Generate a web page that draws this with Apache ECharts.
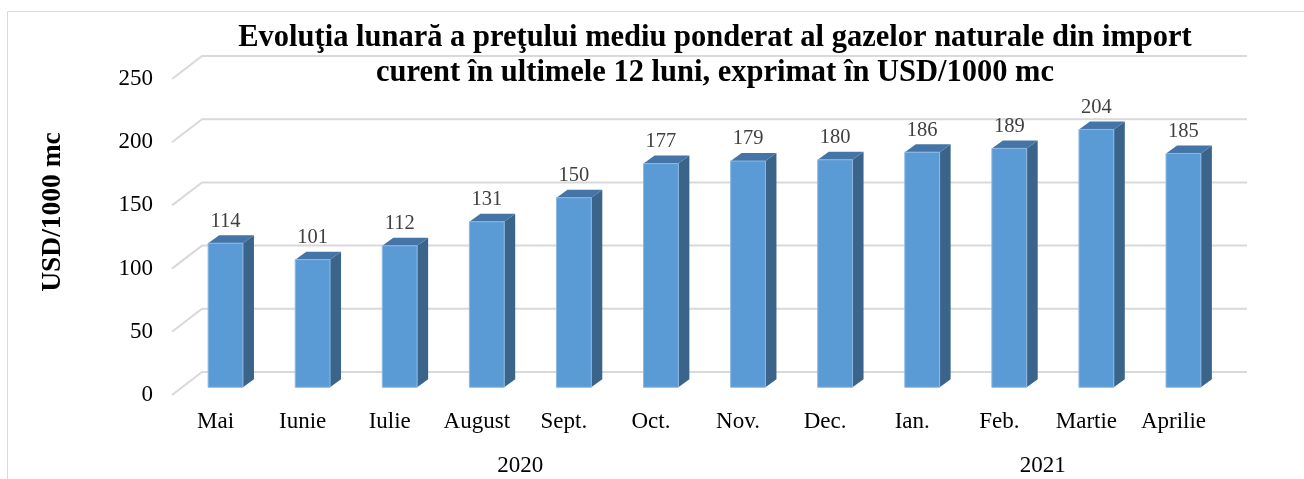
<!DOCTYPE html>
<html>
<head>
<meta charset="utf-8">
<style>
  html, body { margin: 0; padding: 0; background: #fff; }
  #main { width: 1304px; height: 479px; }
</style>
<script src="https://cdn.jsdelivr.net/npm/echarts@6/dist/echarts.min.js"></script>
</head>
<body>
<div id="main"></div>
<script>
var months = ['Mai', 'Iunie', 'Iulie', 'August', 'Sept.', 'Oct.', 'Nov.', 'Dec.', 'Ian.', 'Feb.', 'Martie', 'Aprilie'];
var prices = [114, 101, 112, 131, 150, 177, 179, 180, 186, 189, 204, 185];
var years = ['2020', '2021'];
var yearStart = [0, 8];
var yearEnd = [7, 11];
var yTicks = [0, 50, 100, 150, 200, 250];

var FONT = 'Liberation Serif';
var DX = 30, DY = -23;      // adancimea peretelui din spate
var FX = 10, FY = -7.7;     // fata barei fata de planul axelor
var BX = 11, BY = -8;       // grosimea barei
var GRID_COLOR = '#D9D9D9';

var myChart = echarts.init(document.getElementById('main'));

// linii de grila: diagonala din fata + linia de pe peretele din spate
function wallItem(params, api) {
  var cs = params.coordSys;
  var p = api.coord([0, api.value(1)]);
  var xl = cs.x, xr = cs.x + cs.width;
  return {
    type: 'polyline',
    shape: { points: [[xl, p[1]], [xl + DX, p[1] + DY], [xr + DX, p[1] + DY]] },
    style: { stroke: GRID_COLOR, lineWidth: 2, fill: null }
  };
}

function barItem(params, api) {
  var i = api.value(0), v = api.value(1);
  var base = api.coord([i, 0]);
  var top = api.coord([i, v]);
  var w = api.size([1, 0])[0] * 0.4;
  var x0 = base[0] - w / 2 + FX, x1 = x0 + w;
  var yb = base[1] + FY, yt = top[1] + FY;
  return {
    type: 'group',
    children: [
      { type: 'polygon', shape: { points: [[x1, yb], [x1 + BX, yb + BY], [x1 + BX, yt + BY], [x1, yt]] },
        style: { fill: '#3A6489' } },
      { type: 'polygon', shape: { points: [[x0, yt], [x1, yt], [x1 + BX, yt + BY], [x0 + BX, yt + BY]] },
        style: { fill: '#4575A6' } },
      { type: 'rect', shape: { x: x0, y: yt, width: w, height: yb - yt },
        style: { fill: '#5B9BD5', stroke: '#8DB8E3', lineWidth: 1 } },
      { type: 'text', style: { text: String(v), x: (x0 + x1) / 2, y: yt - 22, align: 'center', verticalAlign: 'middle',
        fontFamily: FONT, fontSize: 20.5, fill: '#404040' } }
    ]
  };
}

function yearItem(params, api) {
  var a = api.coord([api.value(0), 0]);
  var b = api.coord([api.value(1), 0]);
  return {
    type: 'text',
    style: { text: years[params.dataIndex], x: (a[0] + b[0]) / 2, y: a[1] + 71, align: 'center', verticalAlign: 'middle',
      fontFamily: FONT, fontSize: 23, fill: '#000' }
  };
}

var option = {
  backgroundColor: '#fff',
  animation: false,
  graphic: [
    { type: 'rect', shape: { x: 7.5, y: 11.5, width: 1400, height: 600 },
      style: { fill: null, stroke: GRID_COLOR, lineWidth: 1 }, silent: true },
    { type: 'text', x: 715, y: 20.5,
      style: { text: 'Evoluţia lunară a preţului mediu ponderat al gazelor naturale din import\ncurent în ultimele 12 luni, exprimat în USD/1000 mc',
        align: 'center', verticalAlign: 'top', fontFamily: FONT, fontWeight: 'bold', fontSize: 30.5, lineHeight: 35, fill: '#000' } },
    { type: 'text', x: 53, y: 212, rotation: Math.PI / 2,
      style: { text: 'USD/1000 mc', align: 'center', verticalAlign: 'middle', fontFamily: FONT, fontWeight: 'bold', fontSize: 27.5, fill: '#000' } }
  ],
  grid: { left: 172, right: 87, top: 79, bottom: 84 },
  xAxis: {
    type: 'category',
    data: months,
    axisLine: { show: false },
    axisTick: { show: false },
    axisLabel: { margin: 15, fontFamily: FONT, fontSize: 23, color: '#000' }
  },
  yAxis: {
    type: 'value',
    min: 0,
    max: 250,
    interval: 50,
    axisLine: { show: false },
    axisTick: { show: false },
    splitLine: { show: false },
    axisLabel: { margin: 19, fontFamily: FONT, fontSize: 23, color: '#000' }
  },
  series: [
    { type: 'custom', name: 'grila', renderItem: wallItem, data: yTicks.map(function (v) { return [0, v]; }), silent: true, z: 1 },
    { type: 'custom', name: 'Pret', renderItem: barItem, data: prices.map(function (v, i) { return [i, v]; }), z: 2 },
    { type: 'custom', name: 'ani', renderItem: yearItem, data: years.map(function (y, k) { return [yearStart[k], yearEnd[k]]; }), silent: true, z: 3 }
  ]
};
myChart.setOption(option);
</script>
</body>
</html>
